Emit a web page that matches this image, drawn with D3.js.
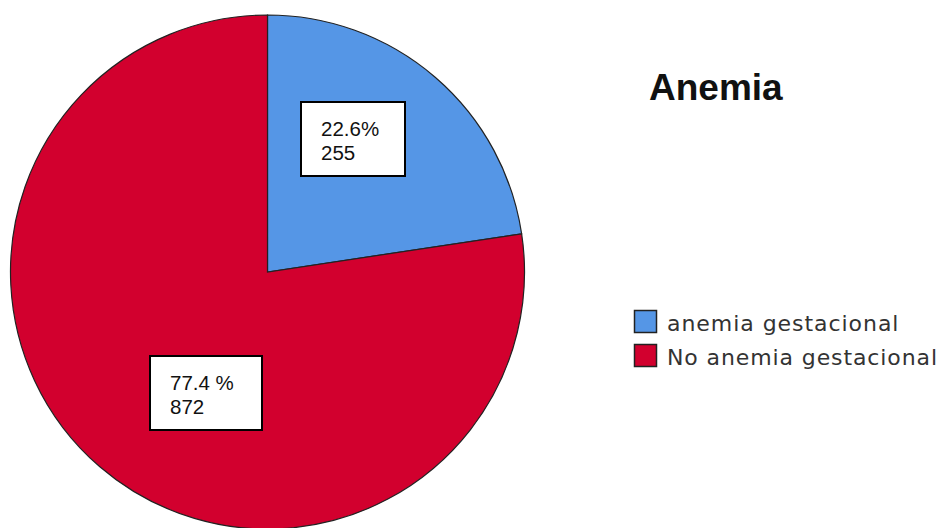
<!DOCTYPE html>
<html><head><meta charset="utf-8">
<script src="https://cdn.jsdelivr.net/npm/d3@7"></script>
<style>body{margin:0;background:#fff}svg{display:block}</style>
</head><body>
<svg id="c" width="940" height="528"></svg>
<script>
const categories = ["anemia gestacional", "No anemia gestacional"];
const counts = [255, 872];
const percentLabels = ["22.6%", "77.4 %"];
const colors = ["#5596E6", "#D2002E"];
const title = "Anemia";

const svg = d3.select("#c");
const cx = 267.5, cy = 272, r = 257;
const pie = d3.pie().sort(null).value(d => d)(counts);
const arc = d3.arc().innerRadius(0).outerRadius(r);
const g = svg.append("g").attr("transform", `translate(${cx},${cy})`);
g.selectAll("path").data(pie).join("path")
  .attr("d", arc).attr("fill", (d, i) => colors[i])
  .attr("stroke", "#222").attr("stroke-width", 1.2);

const sans = "'Liberation Sans', Arial, sans-serif";
// label boxes
const boxes = [
  {x: 301, y: 102, w: 104, h: 74},
  {x: 150, y: 356, w: 112, h: 74}
];
boxes.forEach((b, i) => {
  svg.append("rect").attr("x", b.x).attr("y", b.y).attr("width", b.w).attr("height", b.h)
    .attr("fill", "#fff").attr("stroke", "#000").attr("stroke-width", 2);
  svg.append("text").attr("x", b.x + 20).attr("y", b.y + 34)
    .style("font-family", sans).attr("font-size", 20.5).attr("fill", "#111")
    .text(percentLabels[i]);
  svg.append("text").attr("x", b.x + 20).attr("y", b.y + 58)
    .style("font-family", sans).attr("font-size", 20.5).attr("fill", "#111")
    .text(counts[i]);
});

// title
svg.append("text").attr("x", 649).attr("y", 100)
  .style("font-family", sans).attr("font-weight", "bold")
  .attr("font-size", 37).attr("fill", "#111").text(title);

// legend
const lg = svg.append("g");
categories.forEach((c, i) => {
  const y = 310 + i * 34;
  lg.append("rect").attr("x", 634.5).attr("y", y + 0.5).attr("width", 22).attr("height", 22)
    .attr("fill", colors[i]).attr("stroke", "#222").attr("stroke-width", 1.5);
  lg.append("text").attr("x", 667).attr("y", y + 21)
    .style("font-family", "'DejaVu Sans', sans-serif").attr("font-size", 22).attr("fill", "#333")
    .attr("textLength", c.length * 270 / 21).attr("lengthAdjust", "spacing")
    .text(c);
});
</script>
</body></html>
